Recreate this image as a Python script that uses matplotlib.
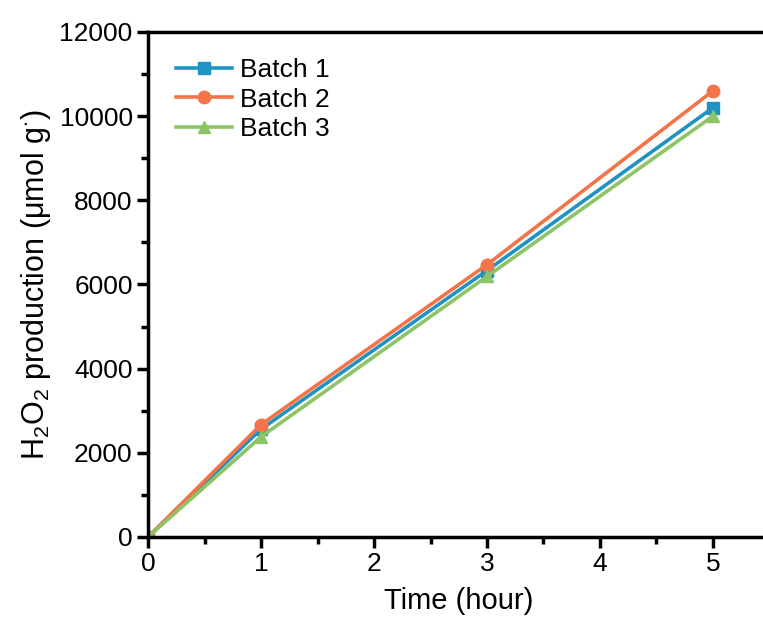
import matplotlib.pyplot as plt

plt.rcParams['font.family'] = ['Liberation Sans', 'DejaVu Sans']
plt.rcParams['mathtext.fontset'] = 'custom'
plt.rcParams['mathtext.rm'] = 'Liberation Sans'
plt.rcParams['mathtext.it'] = 'Liberation Sans'

time_h = [0, 1, 3, 5]
batch1 = [0, 2560, 6330, 10200]
batch2 = [0, 2670, 6470, 10600]
batch3 = [0, 2380, 6190, 10000]
labels = ['Batch 1', 'Batch 2', 'Batch 3']
colors = ['#1f93c1', '#f4744a', '#8cc466']
markers = ['s', 'o', '^']

fig = plt.figure(figsize=(7.63, 6.22), dpi=100)
ax = fig.add_axes([0.194, 0.1367, 0.8145, 0.812])

for y, lab, c, m in zip([batch1, batch2, batch3], labels, colors, markers):
    ax.plot(time_h, y, color=c, marker=m, markersize=9, lw=2.6, label=lab)

ax.set_xlim(0, 5.5)
ax.set_ylim(0, 12000)
ax.set_xticks([0, 1, 2, 3, 4, 5])
ax.set_xticks([0.5, 1.5, 2.5, 3.5, 4.5], minor=True)
ax.set_yticks(range(0, 12001, 2000))
ax.set_yticks(range(1000, 12000, 2000), minor=True)

for s in ['left', 'bottom', 'top']:
    ax.spines[s].set_linewidth(2.5)
ax.spines['right'].set_visible(False)
ax.tick_params(which='major', direction='out', length=8, width=2.5, labelsize=19, pad=3)
ax.tick_params(which='minor', direction='out', length=5, width=2.5)
ax.tick_params(top=False, right=False)

ax.set_xlabel('Time (hour)', fontsize=21, labelpad=8)
ax.set_ylabel(r'H$_2$O$_2$ production (μmol g$^{\cdot}$)', fontsize=22, labelpad=5)

ax.legend(loc='upper left', frameon=False, fontsize=19, handlelength=2.1,
          handletextpad=0.3, labelspacing=0.22, borderaxespad=0.2,
          bbox_to_anchor=(0.02, 0.98))

fig.savefig('out.png', dpi=100)
